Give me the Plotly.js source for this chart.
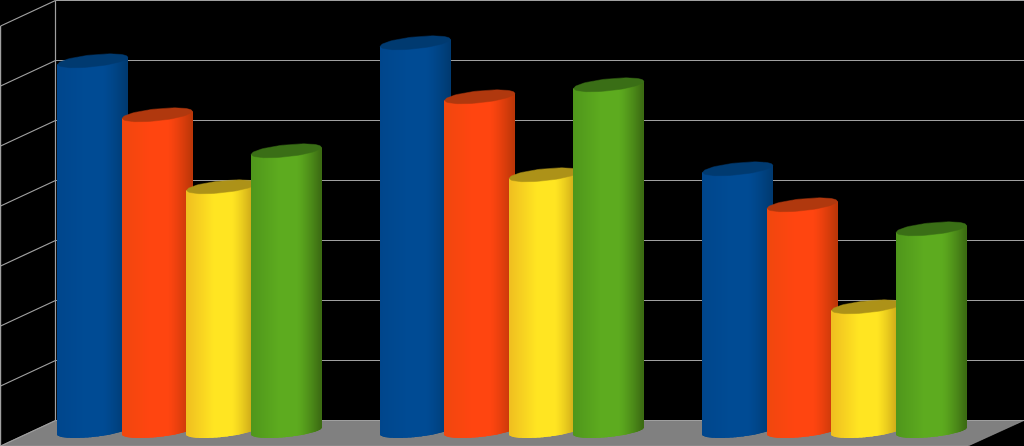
<!DOCTYPE html>
<html><head><meta charset="utf-8">
<script src="https://cdn.plot.ly/plotly-3.0.1.min.js"></script>
<style>html,body{margin:0;padding:0;background:#000;overflow:hidden}</style>
</head><body><div id="chart" style="width:1024px;height:446px"></div>
<script>
// Data
const groups = [0, 1, 2];
const seriesA = [6.17, 6.47, 4.37];
const seriesB = [5.27, 5.57, 3.77];
const seriesC = [4.07, 4.27, 2.07];
const seriesD = [4.67, 5.77, 3.37];
const gridTicks = [0, 1, 2, 3, 4, 5, 6, 7];

// Styles: [edge-left, centre, edge-right, cap]
const styleA = ['#00468c', '#004b94', '#003a70', '#003a70'];
const styleB = ['#f0470e', '#ff4510', '#bb3608', '#b0380e'];
const styleC = ['#efbe20', '#ffe522', '#c09a16', '#ad9218'];
const styleD = ['#4f961b', '#5dab1f', '#3b6a12', '#3a6e16'];

// Scale constants
const W = 1024, H = 446;
const groupPx = 322.5, group0Px = 189.5, floorPx = 420.5, cylPx = 431, unitPx = 60;
const xOf = p => (p - group0Px) / groupPx;
const xRange = [xOf(0), xOf(W)];
const yRange = [(floorPx - H) / unitPx, floorPx / unitPx];
const cylRange = [(cylPx - H) / unitPx, cylPx / unitPx];
const step = 0.2, halfW = 35 / groupPx;
const tilt = 3.5 / unitPx, depth = 6 / unitPx;
const wallBack = xOf(55.5), wallFront = xOf(0.6), wallDrop = 25.5 / unitPx;

function hex(c){return [1,3,5].map(i=>parseInt(c.substr(i,2),16));}
function mix(a,b,t){const A=hex(a),B=hex(b);return 'rgb('+A.map((v,i)=>Math.round(v+(B[i]-v)*t)).join(',')+')';}
function shade(st,u){
  if(u<-0.2) return mix(st[0],st[1],Math.min(1,(u+1)/0.8));
  if(u<0.3) return st[1];
  return mix(st[1],st[2],Math.pow((u-0.3)/0.7,1.3));
}

const traces = [];
// floor
traces.push({type:'scatter',mode:'lines',xaxis:'x',yaxis:'y',hoverinfo:'skip',showlegend:false,
  x:[wallBack,xRange[1],xOf(968),wallFront,wallBack],
  y:[0,0,-wallDrop,-wallDrop,0],
  fill:'toself',fillcolor:'#808080',line:{color:'#9a9a9a',width:0.6}});
// back wall grid
const gx=[],gy=[];
gridTicks.forEach(t=>{gx.push(wallBack,xRange[1],null);gy.push(t,t,null);});
traces.push({type:'scatter',mode:'lines',xaxis:'x',yaxis:'y',hoverinfo:'skip',showlegend:false,
  x:gx,y:gy,line:{color:'#a0a0a0',width:1.2}});
// side wall grid
const sx=[],sy=[];
gridTicks.forEach(t=>{sx.push(wallBack,wallFront,null);sy.push(t,t-wallDrop,null);});
sx.push(wallBack,wallBack,null,wallFront,wallFront);
sy.push(0,gridTicks[gridTicks.length-1],null,-wallDrop,gridTicks[gridTicks.length-1]-wallDrop);
traces.push({type:'scatter',mode:'lines',xaxis:'x',yaxis:'y',hoverinfo:'skip',showlegend:false,
  x:sx,y:sy,line:{color:'#a0a0a0',width:1.2}});

// cylinders
const allSeries=[[seriesA,styleA],[seriesB,styleB],[seriesC,styleC],[seriesD,styleD]];
const N=70;
allSeries.forEach(([vals,st],s)=>{
  const ya='y'+(s+2);
  const bx=[],by=[],bb=[],bc=[];
  groups.forEach((g,i)=>{
    const c=g+(s-1.5)*step;
    for(let k=0;k<N;k++){
      const u=-1+(2*k+1)/N;
      const bulge=depth*Math.sqrt(1-u*u);
      const bottom=tilt*u-bulge;
      bx.push(c+u*halfW);
      bb.push(bottom);
      by.push(vals[i]+tilt*u-bottom);
      bc.push(shade(st,u));
    }
  });
  traces.push({type:'bar',xaxis:'x',yaxis:ya,hoverinfo:'skip',showlegend:false,opacity:1,
    x:bx,y:by,base:bb,width:2*halfW/N,marker:{color:bc,opacity:1,line:{width:0}}});
  // caps
  const cx=[],cy=[];
  groups.forEach((g,i)=>{
    const c=g+(s-1.5)*step;
    for(let d=0;d<=72;d++){
      const t=d*5*Math.PI/180;
      cx.push(c+Math.cos(t)*halfW);
      cy.push(vals[i]+tilt*Math.cos(t)+depth*Math.sin(t));
    }
    cx.push(null);cy.push(null);
  });
  traces.push({type:'scatter',mode:'lines',xaxis:'x',yaxis:ya,hoverinfo:'skip',showlegend:false,
    x:cx,y:cy,fill:'toself',fillcolor:st[3],line:{color:st[3],width:0.5}});
});

const hidden={visible:false,fixedrange:true,showgrid:false,zeroline:false};
const layout={width:W,height:H,margin:{l:0,r:0,t:0,b:0,pad:0},
  paper_bgcolor:'#000',plot_bgcolor:'#000',showlegend:false,barmode:'overlay',
  xaxis:Object.assign({range:xRange},hidden),
  yaxis:Object.assign({range:yRange},hidden)};
[2,3,4,5].forEach(n=>{layout['yaxis'+n]=Object.assign({range:cylRange,overlaying:'y'},hidden);});
Plotly.newPlot('chart',traces,layout,{displayModeBar:false});
</script></body></html>
